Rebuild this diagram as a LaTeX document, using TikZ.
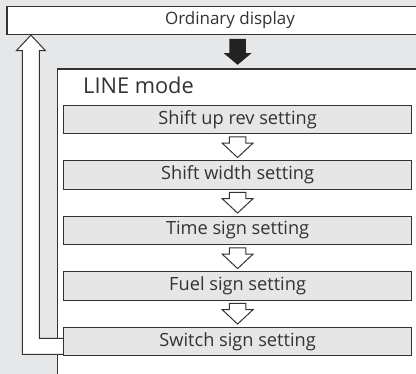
\documentclass[tikz,border=0pt]{standalone}
\usepackage{fontspec}
\setmainfont{Open Sans}
\usetikzlibrary{positioning,calc}
\definecolor{bggray}{HTML}{E6E7E8}
\definecolor{boxgray}{HTML}{E6E6E6}
\definecolor{edge}{HTML}{333333}
\definecolor{darkfill}{HTML}{222222}

\tikzset{
  dispbox/.style={draw=edge,line width=1.2pt,fill=white,minimum width=446pt,
    minimum height=28pt,inner sep=0pt,text=edge,font=\fontsize{17}{20}\selectfont},
  modebox/.style={draw=edge,line width=1.2pt,fill=white,minimum width=400pt,
    minimum height=350pt,inner sep=0pt},
  setbox/.style={draw=edge,line width=1.3pt,fill=boxgray,minimum width=348.2pt,
    minimum height=28.5pt,inner sep=0pt,text=edge,font=\fontsize{18.2}{21}\selectfont},
  retarrow/.style={draw=edge,line width=1pt,fill=white},
  hollowdn/.pic={
    \draw[edge,line width=1pt,fill=white] (-8.2,10.3) -- (8.2,10.3) -- (8.2,4)
      -- (15.3,4) -- (0,-10.3) -- (-15.3,4) -- (-8.2,4) -- cycle;},
  soliddn/.pic={
    \fill[darkfill] (-8.2,13) -- (8.2,13) -- (8.2,-1.4) -- (13.9,-1.4)
      -- (0,-13) -- (-13.9,-1.4) -- (-8.2,-1.4) -- cycle;}
}

\begin{document}
\begin{tikzpicture}[x=1pt,y=1pt,node distance=25.7pt]
\useasboundingbox (0,0) rectangle (416,-374);
\clip (0,0) rectangle (416,-374);
\fill[bggray] (0,0) rectangle (416,-374);

%Boxes
\node[dispbox] (disp) at (230,-20.5) {Ordinary display};
\node[modebox,anchor=north west] (mode) at (56.5,-68.5) {};
\node[anchor=base west,text=edge,inner sep=0pt,font=\fontsize{21.8}{25}\selectfont]
  (title) at (83,-93.3) {LINE mode};

%Settings
\node[setbox] (s1) at (237.6,-119.5) {Shift up rev setting};
\node[setbox,below=of s1] (s2) {Shift width setting};
\node[setbox,below=of s2] (s3) {Time sign setting};
\node[setbox,below=of s3] (s4) {Fuel sign setting};

%Return arrow
\coordinate (rettip) at ($(disp.south west)+(24.5,0)$);
\draw[retarrow] ($(s4.south west)+(0,-37.5)$) -| ($(rettip)+(8.5,-15.5)$)
  -- ++(6,0) -- (rettip) -- ++(-14.5,-15.5) -- ++(6,0)
  |- ($(s4.south west)+(0,-53.5)$);
\node[setbox,below=of s4] (s5) {Switch sign setting};

%Arrows
\pic at ($(disp.south -| s1)!0.5!(mode.north -| s1)$) {soliddn};
\foreach \a/\b in {s1/s2,s2/s3,s3/s4,s4/s5}
  \pic at ($(\a.south)!0.5!(\b.north)$) {hollowdn};
\end{tikzpicture}
\end{document}
